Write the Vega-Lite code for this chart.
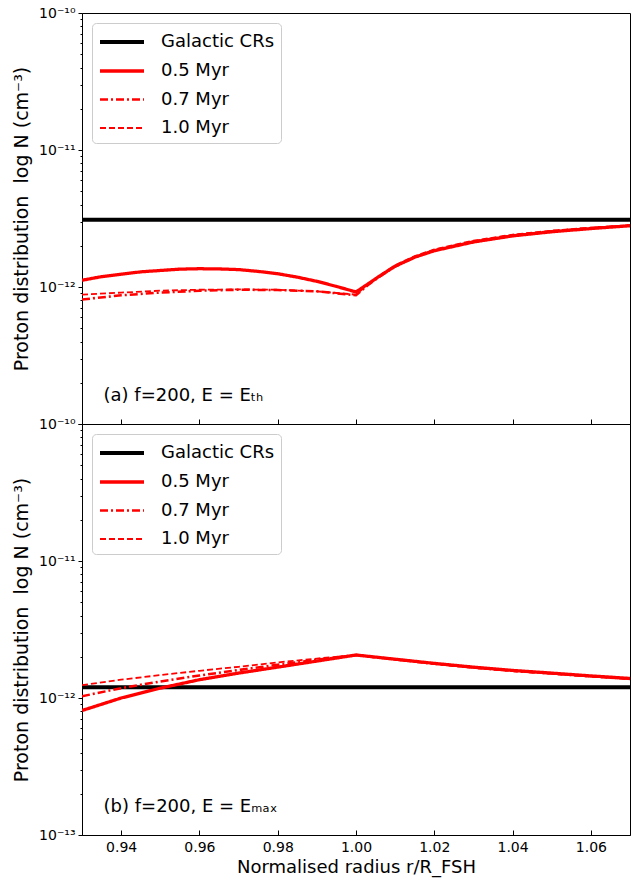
{
  "$schema": "https://vega.github.io/schema/vega-lite/v6.json",
  "padding": {"left": 12, "top": 5, "right": 4, "bottom": 2},
  "spacing": 0,
  "bounds": "flush",
  "config": {
    "font": "DejaVu Sans",
    "view": {"stroke": "black", "strokeWidth": 1},
    "axis": {"domainColor": "black", "tickColor": "black", "labelColor": "black", "titleColor": "black", "grid": false, "labelFont": "DejaVu Sans", "titleFont": "DejaVu Sans", "titleFontWeight": "normal", "labelFontSize": 14, "titleFontSize": 18},
    "legend": {"orient": "top-left", "offset": 10, "padding": 6, "strokeColor": "#cccccc", "fillColor": "white", "cornerRadius": 4, "labelFontSize": 18, "labelFont": "DejaVu Sans", "symbolType": "M-1,0H3", "symbolSize": 484, "labelOffset": 37, "rowPadding": 7, "title": null}
  },
  "resolve": {"legend": {"color": "independent", "strokeDash": "independent", "strokeWidth": "independent"}},
  "datasets": {
    "pts": [
      {"p": "a", "s": "Galactic CRs", "r": 0.93, "N": 3.1e-12},
      {"p": "a", "s": "Galactic CRs", "r": 1.07, "N": 3.1e-12},
      {"p": "a", "s": "0.5 Myr", "r": 0.93, "N": 1.12e-12},
      {"p": "a", "s": "0.5 Myr", "r": 0.935, "N": 1.19e-12},
      {"p": "a", "s": "0.5 Myr", "r": 0.94, "N": 1.24e-12},
      {"p": "a", "s": "0.5 Myr", "r": 0.945, "N": 1.29e-12},
      {"p": "a", "s": "0.5 Myr", "r": 0.95, "N": 1.32e-12},
      {"p": "a", "s": "0.5 Myr", "r": 0.955, "N": 1.35e-12},
      {"p": "a", "s": "0.5 Myr", "r": 0.96, "N": 1.36e-12},
      {"p": "a", "s": "0.5 Myr", "r": 0.965, "N": 1.355e-12},
      {"p": "a", "s": "0.5 Myr", "r": 0.97, "N": 1.34e-12},
      {"p": "a", "s": "0.5 Myr", "r": 0.975, "N": 1.30e-12},
      {"p": "a", "s": "0.5 Myr", "r": 0.98, "N": 1.25e-12},
      {"p": "a", "s": "0.5 Myr", "r": 0.985, "N": 1.18e-12},
      {"p": "a", "s": "0.5 Myr", "r": 0.99, "N": 1.10e-12},
      {"p": "a", "s": "0.5 Myr", "r": 0.995, "N": 1.01e-12},
      {"p": "a", "s": "0.5 Myr", "r": 1.0, "N": 0.92e-12},
      {"p": "a", "s": "0.5 Myr", "r": 1.003, "N": 1.05e-12},
      {"p": "a", "s": "0.5 Myr", "r": 1.006, "N": 1.20e-12},
      {"p": "a", "s": "0.5 Myr", "r": 1.01, "N": 1.42e-12},
      {"p": "a", "s": "0.5 Myr", "r": 1.015, "N": 1.65e-12},
      {"p": "a", "s": "0.5 Myr", "r": 1.02, "N": 1.84e-12},
      {"p": "a", "s": "0.5 Myr", "r": 1.03, "N": 2.13e-12},
      {"p": "a", "s": "0.5 Myr", "r": 1.04, "N": 2.36e-12},
      {"p": "a", "s": "0.5 Myr", "r": 1.05, "N": 2.53e-12},
      {"p": "a", "s": "0.5 Myr", "r": 1.06, "N": 2.67e-12},
      {"p": "a", "s": "0.5 Myr", "r": 1.07, "N": 2.80e-12},
      {"p": "a", "s": "0.7 Myr", "r": 0.93, "N": 0.81e-12},
      {"p": "a", "s": "0.7 Myr", "r": 0.94, "N": 0.87e-12},
      {"p": "a", "s": "0.7 Myr", "r": 0.95, "N": 0.91e-12},
      {"p": "a", "s": "0.7 Myr", "r": 0.96, "N": 0.94e-12},
      {"p": "a", "s": "0.7 Myr", "r": 0.97, "N": 0.955e-12},
      {"p": "a", "s": "0.7 Myr", "r": 0.98, "N": 0.95e-12},
      {"p": "a", "s": "0.7 Myr", "r": 0.99, "N": 0.93e-12},
      {"p": "a", "s": "0.7 Myr", "r": 1.0, "N": 0.87e-12},
      {"p": "a", "s": "0.7 Myr", "r": 1.003, "N": 1.03e-12},
      {"p": "a", "s": "0.7 Myr", "r": 1.006, "N": 1.19e-12},
      {"p": "a", "s": "0.7 Myr", "r": 1.01, "N": 1.41e-12},
      {"p": "a", "s": "0.7 Myr", "r": 1.015, "N": 1.65e-12},
      {"p": "a", "s": "0.7 Myr", "r": 1.02, "N": 1.85e-12},
      {"p": "a", "s": "0.7 Myr", "r": 1.03, "N": 2.15e-12},
      {"p": "a", "s": "0.7 Myr", "r": 1.04, "N": 2.38e-12},
      {"p": "a", "s": "0.7 Myr", "r": 1.05, "N": 2.55e-12},
      {"p": "a", "s": "0.7 Myr", "r": 1.06, "N": 2.69e-12},
      {"p": "a", "s": "0.7 Myr", "r": 1.07, "N": 2.81e-12},
      {"p": "a", "s": "1.0 Myr", "r": 0.93, "N": 0.88e-12},
      {"p": "a", "s": "1.0 Myr", "r": 0.94, "N": 0.91e-12},
      {"p": "a", "s": "1.0 Myr", "r": 0.95, "N": 0.94e-12},
      {"p": "a", "s": "1.0 Myr", "r": 0.96, "N": 0.955e-12},
      {"p": "a", "s": "1.0 Myr", "r": 0.97, "N": 0.96e-12},
      {"p": "a", "s": "1.0 Myr", "r": 0.98, "N": 0.955e-12},
      {"p": "a", "s": "1.0 Myr", "r": 0.99, "N": 0.93e-12},
      {"p": "a", "s": "1.0 Myr", "r": 1.0, "N": 0.88e-12},
      {"p": "a", "s": "1.0 Myr", "r": 1.003, "N": 1.04e-12},
      {"p": "a", "s": "1.0 Myr", "r": 1.006, "N": 1.21e-12},
      {"p": "a", "s": "1.0 Myr", "r": 1.01, "N": 1.44e-12},
      {"p": "a", "s": "1.0 Myr", "r": 1.015, "N": 1.68e-12},
      {"p": "a", "s": "1.0 Myr", "r": 1.02, "N": 1.88e-12},
      {"p": "a", "s": "1.0 Myr", "r": 1.03, "N": 2.18e-12},
      {"p": "a", "s": "1.0 Myr", "r": 1.04, "N": 2.41e-12},
      {"p": "a", "s": "1.0 Myr", "r": 1.05, "N": 2.58e-12},
      {"p": "a", "s": "1.0 Myr", "r": 1.06, "N": 2.71e-12},
      {"p": "a", "s": "1.0 Myr", "r": 1.07, "N": 2.83e-12},
      {"p": "b", "s": "Galactic CRs", "r": 0.93, "N": 1.2e-12},
      {"p": "b", "s": "Galactic CRs", "r": 1.07, "N": 1.2e-12},
      {"p": "b", "s": "0.5 Myr", "r": 0.93, "N": 0.81e-12},
      {"p": "b", "s": "0.5 Myr", "r": 0.94, "N": 1.00e-12},
      {"p": "b", "s": "0.5 Myr", "r": 0.95, "N": 1.18e-12},
      {"p": "b", "s": "0.5 Myr", "r": 0.96, "N": 1.36e-12},
      {"p": "b", "s": "0.5 Myr", "r": 0.97, "N": 1.52e-12},
      {"p": "b", "s": "0.5 Myr", "r": 0.98, "N": 1.68e-12},
      {"p": "b", "s": "0.5 Myr", "r": 0.99, "N": 1.86e-12},
      {"p": "b", "s": "0.5 Myr", "r": 1.0, "N": 2.06e-12},
      {"p": "b", "s": "0.5 Myr", "r": 1.01, "N": 1.92e-12},
      {"p": "b", "s": "0.5 Myr", "r": 1.02, "N": 1.79e-12},
      {"p": "b", "s": "0.5 Myr", "r": 1.03, "N": 1.68e-12},
      {"p": "b", "s": "0.5 Myr", "r": 1.04, "N": 1.59e-12},
      {"p": "b", "s": "0.5 Myr", "r": 1.05, "N": 1.52e-12},
      {"p": "b", "s": "0.5 Myr", "r": 1.06, "N": 1.45e-12},
      {"p": "b", "s": "0.5 Myr", "r": 1.07, "N": 1.39e-12},
      {"p": "b", "s": "0.7 Myr", "r": 0.93, "N": 1.03e-12},
      {"p": "b", "s": "0.7 Myr", "r": 0.94, "N": 1.18e-12},
      {"p": "b", "s": "0.7 Myr", "r": 0.95, "N": 1.32e-12},
      {"p": "b", "s": "0.7 Myr", "r": 0.96, "N": 1.46e-12},
      {"p": "b", "s": "0.7 Myr", "r": 0.97, "N": 1.60e-12},
      {"p": "b", "s": "0.7 Myr", "r": 0.98, "N": 1.75e-12},
      {"p": "b", "s": "0.7 Myr", "r": 0.99, "N": 1.90e-12},
      {"p": "b", "s": "0.7 Myr", "r": 1.0, "N": 2.06e-12},
      {"p": "b", "s": "0.7 Myr", "r": 1.01, "N": 1.91e-12},
      {"p": "b", "s": "0.7 Myr", "r": 1.02, "N": 1.78e-12},
      {"p": "b", "s": "0.7 Myr", "r": 1.03, "N": 1.67e-12},
      {"p": "b", "s": "0.7 Myr", "r": 1.04, "N": 1.58e-12},
      {"p": "b", "s": "0.7 Myr", "r": 1.05, "N": 1.51e-12},
      {"p": "b", "s": "0.7 Myr", "r": 1.06, "N": 1.44e-12},
      {"p": "b", "s": "0.7 Myr", "r": 1.07, "N": 1.38e-12},
      {"p": "b", "s": "1.0 Myr", "r": 0.93, "N": 1.24e-12},
      {"p": "b", "s": "1.0 Myr", "r": 0.94, "N": 1.36e-12},
      {"p": "b", "s": "1.0 Myr", "r": 0.95, "N": 1.47e-12},
      {"p": "b", "s": "1.0 Myr", "r": 0.96, "N": 1.58e-12},
      {"p": "b", "s": "1.0 Myr", "r": 0.97, "N": 1.69e-12},
      {"p": "b", "s": "1.0 Myr", "r": 0.98, "N": 1.82e-12},
      {"p": "b", "s": "1.0 Myr", "r": 0.99, "N": 1.94e-12},
      {"p": "b", "s": "1.0 Myr", "r": 1.0, "N": 2.06e-12},
      {"p": "b", "s": "1.0 Myr", "r": 1.01, "N": 1.90e-12},
      {"p": "b", "s": "1.0 Myr", "r": 1.02, "N": 1.77e-12},
      {"p": "b", "s": "1.0 Myr", "r": 1.03, "N": 1.66e-12},
      {"p": "b", "s": "1.0 Myr", "r": 1.04, "N": 1.57e-12},
      {"p": "b", "s": "1.0 Myr", "r": 1.05, "N": 1.50e-12},
      {"p": "b", "s": "1.0 Myr", "r": 1.06, "N": 1.43e-12},
      {"p": "b", "s": "1.0 Myr", "r": 1.07, "N": 1.37e-12}
    ]
  },
  "vconcat": [
    {
      "width": 548,
      "height": 411,
      "layer": [
        {
          "data": {"name": "pts"},
          "transform": [{"filter": "datum.p == 'a'"}],
          "mark": {"type": "line", "clip": true},
          "encoding": {
            "x": {"field": "r", "type": "quantitative", "scale": {"domain": [0.93, 1.07], "nice": false, "zero": false},
              "axis": {"values": [0.94, 0.96, 0.98, 1.0, 1.02, 1.04, 1.06], "labels": false, "title": null, "tickSize": -5}},
            "y": {"field": "N", "type": "quantitative", "scale": {"type": "log", "domain": [1e-13, 1e-10], "nice": false},
              "axis": {"title": "Proton distribution\u00a0\u00a0log N (cm⁻³)", "titleFontSize": 19, "titlePadding": 7, "labelPadding": 3,
                "values": [1e-13, 2e-13, 3e-13, 4e-13, 5e-13, 6e-13, 7e-13, 8e-13, 9e-13, 1e-12, 2e-12, 3e-12, 4e-12, 5e-12, 6e-12, 7e-12, 8e-12, 9e-12, 1e-11, 2e-11, 3e-11, 4e-11, 5e-11, 6e-11, 7e-11, 8e-11, 9e-11, 1e-10],
                "labelExpr": "abs(log(datum.value)/LN10 - round(log(datum.value)/LN10)) > 0.01 ? '' : round(log(datum.value)/LN10) == -10 ? '10⁻¹⁰' : round(log(datum.value)/LN10) == -11 ? '10⁻¹¹' : round(log(datum.value)/LN10) == -12 ? '10⁻¹²' : ''",
                "tickSize": {"condition": {"test": "abs(log(datum.value)/LN10 - round(log(datum.value)/LN10)) < 0.01", "value": 4}, "value": 2}}},
            "color": {"field": "s", "type": "nominal", "scale": {"domain": ["Galactic CRs", "0.5 Myr", "0.7 Myr", "1.0 Myr"], "range": ["black", "red", "red", "red"]}},
            "strokeDash": {"field": "s", "type": "nominal", "scale": {"domain": ["Galactic CRs", "0.5 Myr", "0.7 Myr", "1.0 Myr"], "range": [[1, 0], [1, 0], [8, 3, 2, 3], [6, 3]]}},
            "strokeWidth": {"field": "s", "type": "nominal", "scale": {"domain": ["Galactic CRs", "0.5 Myr", "0.7 Myr", "1.0 Myr"], "range": [4, 1.8, 1.8, 1.8]}}
          }
        },
        {
          "data": {"values": [{}]},
          "mark": {"type": "text", "align": "left", "baseline": "alphabetic", "fontSize": 18, "font": "DejaVu Sans"},
          "encoding": {
            "x": {"datum": 0.9355, "type": "quantitative"},
            "y": {"datum": 1.47e-13, "type": "quantitative"},
            "text": {"value": "(a) f=200, E = Eₜₕ"}
          }
        }
      ]
    },
    {
      "width": 548,
      "height": 411,
      "layer": [
        {
          "data": {"name": "pts"},
          "transform": [{"filter": "datum.p == 'b'"}],
          "mark": {"type": "line", "clip": true},
          "encoding": {
            "x": {"field": "r", "type": "quantitative", "scale": {"domain": [0.93, 1.07], "nice": false, "zero": false},
              "axis": {"values": [0.94, 0.96, 0.98, 1.0, 1.02, 1.04, 1.06], "format": ".2f", "title": "Normalised radius r/R_FSH", "tickSize": -5, "labelPadding": 10, "titlePadding": 4}},
            "y": {"field": "N", "type": "quantitative", "scale": {"type": "log", "domain": [1e-13, 1e-10], "nice": false},
              "axis": {"title": "Proton distribution\u00a0\u00a0log N (cm⁻³)", "titleFontSize": 19, "titlePadding": 7, "labelPadding": 3,
                "values": [1e-13, 2e-13, 3e-13, 4e-13, 5e-13, 6e-13, 7e-13, 8e-13, 9e-13, 1e-12, 2e-12, 3e-12, 4e-12, 5e-12, 6e-12, 7e-12, 8e-12, 9e-12, 1e-11, 2e-11, 3e-11, 4e-11, 5e-11, 6e-11, 7e-11, 8e-11, 9e-11, 1e-10],
                "labelExpr": "abs(log(datum.value)/LN10 - round(log(datum.value)/LN10)) > 0.01 ? '' : round(log(datum.value)/LN10) == -10 ? '10⁻¹⁰' : round(log(datum.value)/LN10) == -11 ? '10⁻¹¹' : round(log(datum.value)/LN10) == -12 ? '10⁻¹²' : '10⁻¹³'",
                "tickSize": {"condition": {"test": "abs(log(datum.value)/LN10 - round(log(datum.value)/LN10)) < 0.01", "value": 4}, "value": 2}}},
            "color": {"field": "s", "type": "nominal", "scale": {"domain": ["Galactic CRs", "0.5 Myr", "0.7 Myr", "1.0 Myr"], "range": ["black", "red", "red", "red"]}},
            "strokeDash": {"field": "s", "type": "nominal", "scale": {"domain": ["Galactic CRs", "0.5 Myr", "0.7 Myr", "1.0 Myr"], "range": [[1, 0], [1, 0], [8, 3, 2, 3], [6, 3]]}},
            "strokeWidth": {"field": "s", "type": "nominal", "scale": {"domain": ["Galactic CRs", "0.5 Myr", "0.7 Myr", "1.0 Myr"], "range": [4, 1.8, 1.8, 1.8]}}
          }
        },
        {
          "data": {"values": [{}]},
          "mark": {"type": "text", "align": "left", "baseline": "alphabetic", "fontSize": 18, "font": "DejaVu Sans"},
          "encoding": {
            "x": {"datum": 0.9355, "type": "quantitative"},
            "y": {"datum": 1.47e-13, "type": "quantitative"},
            "text": {"value": "(b) f=200, E = Eₘₐₓ"}
          }
        }
      ]
    }
  ]
}
